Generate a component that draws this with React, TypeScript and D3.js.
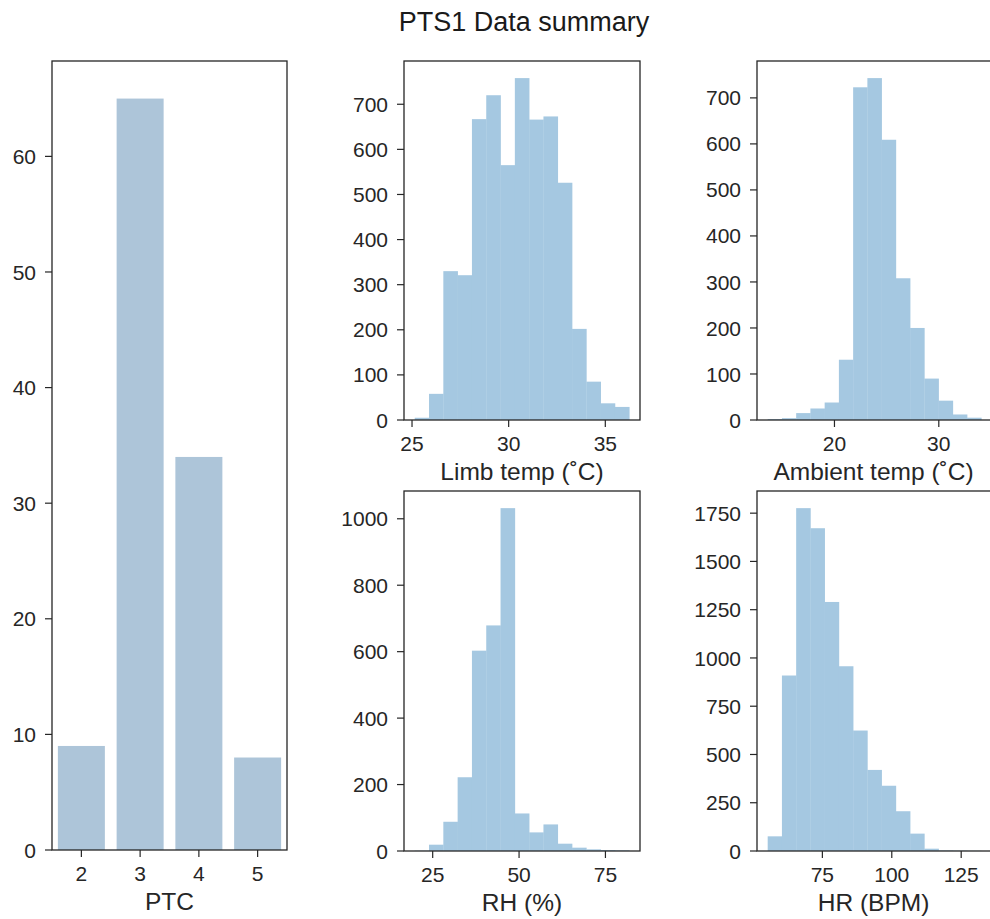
import React from "react";
import * as d3 from "d3";

// ---------- data ----------
const ptcCategories = ["2", "3", "4", "5"];
const ptcCounts = [9, 65, 34, 8];

const limbBinStart = 25.14;
const limbBinWidth = 0.74;
const limbCounts = [5, 58, 330, 321, 667, 720, 565, 758, 666, 673, 526, 202, 85, 37, 29];
const limbTicks = [25, 30, 35];
const limbYTicks = [0, 100, 200, 300, 400, 500, 600, 700];

const ambBinStart = 13.6;
const ambBinWidth = 1.365;
const ambCounts = [2, 4, 15, 25, 38, 131, 723, 743, 609, 308, 200, 90, 42, 12, 5];
const ambTicks = [20, 30];
const ambYTicks = [0, 100, 200, 300, 400, 500, 600, 700];

const rhBinStart = 19.8;
const rhBinWidth = 4.14;
const rhCounts = [1, 19, 88, 222, 603, 679, 1032, 113, 56, 80, 22, 10, 5, 3, 2];
const rhTicks = [25, 50, 75];
const rhYTicks = [0, 200, 400, 600, 800, 1000];

const hrBinStart = 55.3;
const hrBinWidth = 5.13;
const hrCounts = [76, 909, 1776, 1672, 1290, 957, 624, 420, 338, 206, 90, 12, 3, 2, 1];
const hrTicks = [75, 100, 125];
const hrYTicks = [0, 250, 500, 750, 1000, 1250, 1500, 1750];

const ptcYTicks = [0, 10, 20, 30, 40, 50, 60];

// ---------- styles ----------
const FONT = "'Liberation Sans', Arial, Helvetica, sans-serif";
const TICK_FS = 21;
const LABEL_FS = 24.5;
const TEXT = "#262626";
const HIST_FILL = "#a5c8e1";
const BAR_FILL = "#adc5d9";
const FRAME = "#262626";

type Box = { x0: number; x1: number; y0: number; y1: number };

function Frame({ b }: { b: Box }) {
  return (
    <rect x={b.x0} y={b.y0} width={b.x1 - b.x0} height={b.y1 - b.y0} fill="none" stroke={FRAME} strokeWidth={1.3} />
  );
}

function YAxis({ b, y, ticks }: { b: Box; y: d3.ScaleLinear<number, number>; ticks: number[] }) {
  return (
    <g>
      {ticks.map((t) => (
        <g key={t}>
          <line x1={b.x0 - 7} x2={b.x0} y1={y(t)} y2={y(t)} stroke={FRAME} strokeWidth={1.2} />
          <text x={b.x0 - 16} y={y(t)} dy="0.36em" textAnchor="end" fontSize={TICK_FS} fill={TEXT} fontFamily={FONT}>
            {t}
          </text>
        </g>
      ))}
    </g>
  );
}

function XAxis({ b, xs, labels, title }: { b: Box; xs: number[]; labels: string[]; title: string }) {
  const cx = (b.x0 + Math.min(b.x1, 990)) / 2;
  return (
    <g>
      {xs.map((px, i) => (
        <g key={i}>
          <line x1={px} x2={px} y1={b.y1} y2={b.y1 + 7} stroke={FRAME} strokeWidth={1.2} />
          <text x={px} y={b.y1 + 31} textAnchor="middle" fontSize={TICK_FS} fill={TEXT} fontFamily={FONT}>
            {labels[i]}
          </text>
        </g>
      ))}
      <text x={cx} y={b.y1 + 60} textAnchor="middle" fontSize={LABEL_FS} fill={TEXT} fontFamily={FONT}>
        {title}
      </text>
    </g>
  );
}

function Hist({
  b,
  start,
  width,
  counts,
  xticks,
  yticks,
  title,
}: {
  b: Box;
  start: number;
  width: number;
  counts: number[];
  xticks: number[];
  yticks: number[];
  title: string;
}) {
  const end = start + width * counts.length;
  const pad = (end - start) * 0.05;
  const x = d3.scaleLinear().domain([start - pad, end + pad]).range([b.x0, b.x1]);
  const ymax = (d3.max(counts) as number) * 1.05;
  const y = d3.scaleLinear().domain([0, ymax]).range([b.y1, b.y0]);
  const bins = counts.map((c, i) => ({ lo: start + i * width, hi: start + (i + 1) * width, c }));
  return (
    <g>
      {bins.map((d, i) => (
        <rect
          key={i}
          x={x(d.lo)}
          y={y(d.c)}
          width={x(d.hi) - x(d.lo) + 0.3}
          height={b.y1 - y(d.c)}
          fill={HIST_FILL}
        />
      ))}
      <Frame b={b} />
      <YAxis b={b} y={y} ticks={yticks} />
      <XAxis b={b} xs={xticks.map((t) => x(t))} labels={xticks.map(String)} title={title} />
    </g>
  );
}

function BarPanel({ b }: { b: Box }) {
  const x = d3.scaleBand().domain(ptcCategories).range([b.x0, b.x1]).paddingInner(0.2).paddingOuter(0.1);
  const ymax = (d3.max(ptcCounts) as number) * 1.05;
  const y = d3.scaleLinear().domain([0, ymax]).range([b.y1, b.y0]);
  return (
    <g>
      {ptcCategories.map((c, i) => (
        <rect key={c} x={x(c)} y={y(ptcCounts[i])} width={x.bandwidth()} height={b.y1 - y(ptcCounts[i])} fill={BAR_FILL} />
      ))}
      <Frame b={b} />
      <YAxis b={b} y={y} ticks={ptcYTicks} />
      <XAxis
        b={b}
        xs={ptcCategories.map((c) => (x(c) as number) + x.bandwidth() / 2)}
        labels={ptcCategories}
        title="PTC"
      />
    </g>
  );
}

export default function App() {
  const left: Box = { x0: 52, x1: 287, y0: 61, y1: 850 };
  const limb: Box = { x0: 404, x1: 640, y0: 61, y1: 420 };
  const amb: Box = { x0: 757, x1: 992, y0: 61, y1: 420 };
  const rh: Box = { x0: 404, x1: 640, y0: 491, y1: 851 };
  const hr: Box = { x0: 757, x1: 992, y0: 491, y1: 851 };
  return (
    <svg
      width={990}
      height={919}
      style={{ position: "absolute", left: 0, top: 0, background: "#fff" }}
    >
      <rect x={0} y={0} width={990} height={919} fill="#fff" />
      <text x={524} y={31} textAnchor="middle" fontSize={27} fill="#1a1a1a" fontFamily={FONT}>
        PTS1 Data summary
      </text>
      <BarPanel b={left} />
      <Hist b={limb} start={limbBinStart} width={limbBinWidth} counts={limbCounts} xticks={limbTicks} yticks={limbYTicks} title="Limb temp (˚C)" />
      <Hist b={amb} start={ambBinStart} width={ambBinWidth} counts={ambCounts} xticks={ambTicks} yticks={ambYTicks} title="Ambient temp (˚C)" />
      <Hist b={rh} start={rhBinStart} width={rhBinWidth} counts={rhCounts} xticks={rhTicks} yticks={rhYTicks} title="RH (%)" />
      <Hist b={hr} start={hrBinStart} width={hrBinWidth} counts={hrCounts} xticks={hrTicks} yticks={hrYTicks} title="HR (BPM)" />
    </svg>
  );
}
